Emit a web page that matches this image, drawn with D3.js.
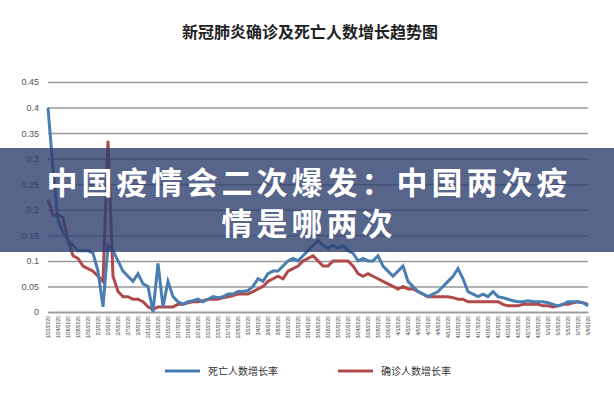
<!DOCTYPE html>
<html><head><meta charset="utf-8">
<script src="https://cdn.jsdelivr.net/npm/d3@7"></script>
<style>body{margin:0;background:#fff}svg{display:block}</style>
</head><body><svg id="c" width="614" height="400"></svg>
<script>
const title = "新冠肺炎确诊及死亡人数增长趋势图";
const bannerLines = ["中国疫情会二次爆发：中国两次疫", "情是哪两次"];
const seriesNames = ["死亡人数增长率", "确诊人数增长率"];
const yTicks = [0,0.05,0.1,0.15,0.2,0.25,0.3,0.35,0.4,0.45];
const deathRate = [0.40,0.28,0.18,0.155,0.14,0.13,0.12,0.12,0.12,0.115,0.08,0.01,0.13,0.12,0.10,0.08,0.07,0.06,0.075,0.055,0.05,0.0,0.095,0.01,0.06,0.03,0.02,0.015,0.02,0.022,0.025,0.02,0.025,0.03,0.028,0.03,0.035,0.035,0.04,0.04,0.042,0.05,0.065,0.06,0.075,0.08,0.08,0.09,0.10,0.105,0.10,0.11,0.12,0.13,0.14,0.13,0.125,0.13,0.125,0.13,0.12,0.115,0.10,0.105,0.10,0.10,0.11,0.09,0.08,0.07,0.08,0.09,0.06,0.05,0.04,0.035,0.03,0.035,0.04,0.05,0.06,0.07,0.085,0.065,0.04,0.035,0.03,0.035,0.03,0.04,0.03,0.028,0.025,0.022,0.02,0.02,0.022,0.02,0.02,0.02,0.018,0.015,0.012,0.015,0.02,0.02,0.02,0.018,0.012];
const confirmRate = [0.22,0.19,0.19,0.185,0.14,0.11,0.105,0.09,0.085,0.08,0.07,0.06,0.335,0.07,0.04,0.03,0.03,0.025,0.025,0.02,0.01,0.005,0.01,0.01,0.01,0.01,0.015,0.015,0.018,0.02,0.02,0.022,0.025,0.025,0.025,0.028,0.03,0.032,0.035,0.035,0.035,0.04,0.045,0.05,0.06,0.065,0.07,0.065,0.08,0.085,0.09,0.10,0.105,0.11,0.10,0.09,0.09,0.10,0.10,0.10,0.10,0.09,0.075,0.07,0.075,0.07,0.065,0.06,0.055,0.05,0.045,0.05,0.045,0.045,0.04,0.035,0.03,0.03,0.03,0.03,0.03,0.028,0.025,0.025,0.02,0.02,0.02,0.02,0.02,0.02,0.02,0.015,0.012,0.012,0.012,0.015,0.015,0.015,0.015,0.012,0.012,0.01,0.012,0.015,0.015,0.018,0.02,0.018,0.015];
const start = new Date(2020,0,22);
const dates = deathRate.map((d,i)=>{const t=new Date(start);t.setDate(t.getDate()+i);return (t.getMonth()+1)+"/"+t.getDate()+"/2020";});

const svg = d3.select("#c");
const x = d3.scalePoint().domain(dates).range([48,588]);
const y = d3.scaleLinear().domain([0,0.45]).range([312,82]);

svg.append("text").attr("x",310).attr("y",38).attr("text-anchor","middle")
  .attr("font-family","Noto Sans CJK SC").attr("font-weight","bold").attr("font-size",16).attr("fill","#222").text(title);

const ya = svg.append("g").attr("transform","translate(48,0)")
  .call(d3.axisLeft(y).tickValues(yTicks).tickSize(-540).tickFormat(d=>d===0?"0":String(+d.toFixed(2))));
ya.select(".domain").remove();
ya.selectAll("line").attr("stroke","#999").attr("stroke-width",1.5);
ya.selectAll("text").attr("font-family","Liberation Sans").attr("font-size",9).attr("fill","#555").attr("x",-9);

const xa = svg.append("g").attr("transform","translate(0,312)")
  .call(d3.axisBottom(x).tickValues(dates.filter((d,i)=>i%2===0)).tickSize(0));
xa.select(".domain").attr("stroke","#999").attr("stroke-width",1.5);
xa.selectAll("text").attr("font-family","Liberation Sans").attr("font-size",5).attr("fill","#444")
  .attr("transform","rotate(-90)").attr("text-anchor","end").attr("x",-4).attr("y",0).attr("dy","0.35em");

const line = d3.line().x((d,i)=>x(dates[i])).y(d=>y(d));
svg.append("path").datum(confirmRate).attr("d",line).attr("fill","none").attr("stroke","#b04a4a").attr("stroke-width",3);
svg.append("path").datum(deathRate).attr("d",line).attr("fill","none").attr("stroke","#4a7db0").attr("stroke-width",3);

const lg = [{c:"#4a7db0",x:165},{c:"#b04a4a",x:338}];
lg.forEach((l,i)=>{
  svg.append("line").attr("x1",l.x).attr("x2",l.x+35).attr("y1",371).attr("y2",371).attr("stroke",l.c).attr("stroke-width",3);
  svg.append("text").attr("x",l.x+43).attr("y",375).attr("font-family","Noto Sans CJK SC").attr("font-size",10).attr("fill","#333").text(seriesNames[i]);
});

svg.append("rect").attr("x",0).attr("y",148).attr("width",614).attr("height",104).attr("fill","rgba(45,62,110,0.8)");
bannerLines.forEach((t,i)=>{
  svg.append("text").attr("x",309).attr("y",194+i*41).attr("text-anchor","middle")
    .attr("font-family","Noto Sans CJK SC").attr("font-weight","bold").attr("font-size",31)
    .attr("letter-spacing",4).attr("fill","#fff").text(t);
});
</script></body></html>
